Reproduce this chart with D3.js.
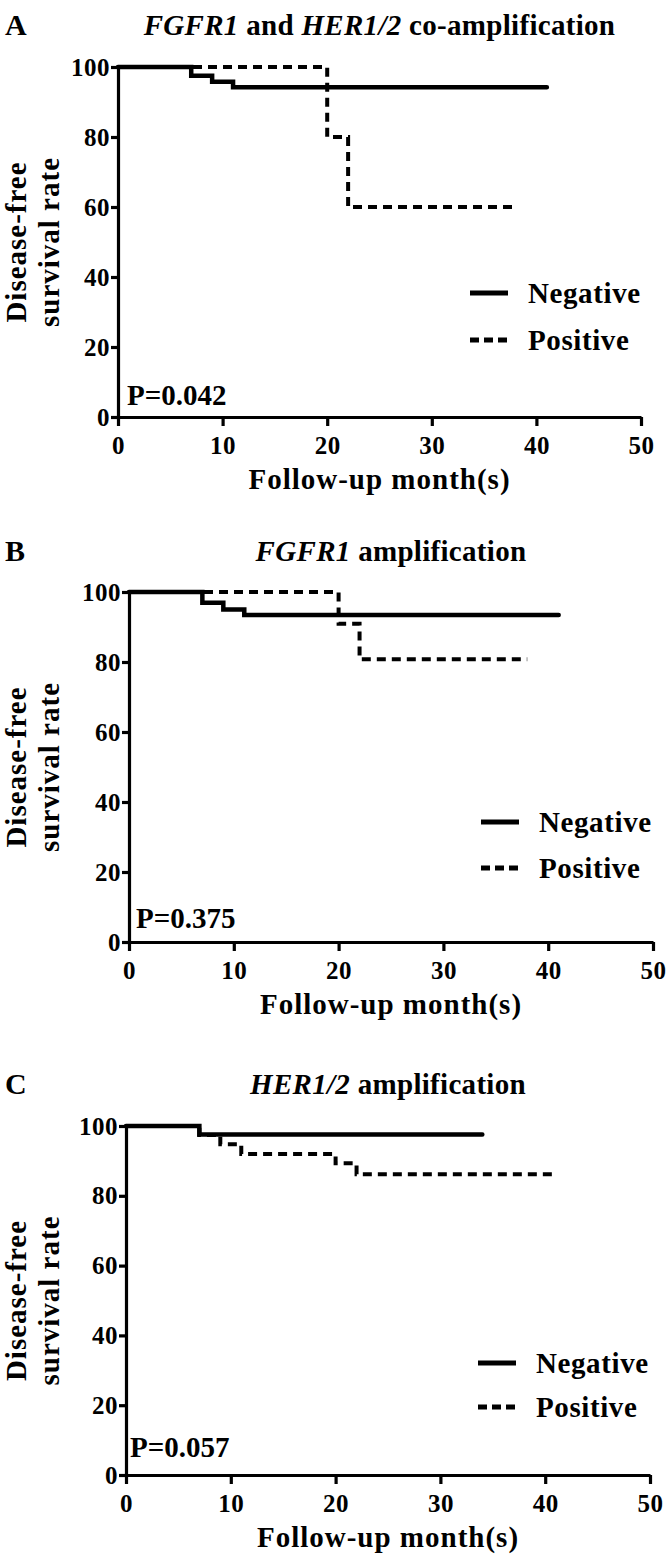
<!DOCTYPE html>
<html><head><meta charset="utf-8">
<script src="https://cdn.jsdelivr.net/npm/d3@7/dist/d3.min.js"></script>
<style>
html,body{margin:0;padding:0;background:#fff;}
</style></head>
<body>
<svg id="chart" width="669" height="1562"></svg>
<script>
// ---- data ----
const panelLabels = ["A", "B", "C"];
const titles = [
  [["FGFR1", true], [" and ", false], ["HER1/2", true], [" co-amplification", false]],
  [["FGFR1", true], [" amplification", false]],
  [["HER1/2", true], [" amplification", false]]
];
const pValues = ["P=0.042", "P=0.375", "P=0.057"];
const seriesNames = ["Negative", "Positive"];
const xTicks = [0, 10, 20, 30, 40, 50];
const yTicks = [0, 20, 40, 60, 80, 100];
const xTitle = "Follow-up month(s)";
const yTitle = ["Disease-free", "survival rate"];

// Kaplan-Meier step points [month, survival %]
const negA = [[0, 100], [7, 97.5], [9, 95.8], [11, 94.2], [41, 94.2]];
const posA = [[0, 100], [20, 80], [22, 60], [38, 60]];
const negB = [[0, 100], [7, 96.9], [9, 95.0], [11, 93.4], [41, 93.4]];
const posB = [[0, 100], [20, 90.9], [22, 80.8], [38, 80.8]];
const negC = [[0, 100], [7, 97.6], [34, 97.6]];
const posC = [[0, 100], [7, 97.4], [9, 94.8], [11, 92.0], [20, 89.3], [22, 86.2], [41, 86.2]];
const negSeries = [negA, negB, negC];
const posSeries = [posA, posB, posC];

// ---- layout ----
const FONT = "'Liberation Serif', 'Times New Roman', Times, serif";
const layout = [
  {x0: 118, x1: 641, yTop: 67,   yBot: 417,  titleY: 35,   legY: [293, 340],   pX: 127, pY: 405},
  {x0: 129, x1: 653, yTop: 592,  yBot: 942,  titleY: 561,  legY: [822, 868],   pX: 136, pY: 928},
  {x0: 126, x1: 650, yTop: 1126, yBot: 1475, titleY: 1094, legY: [1363, 1407], pX: 130, pY: 1457}
];

const svg = d3.select("#chart");
function txt(sel) {
  return sel.attr("font-family", FONT).attr("font-weight", "bold").attr("fill", "#000");
}

layout.forEach((L, i) => {
  const g = svg.append("g");
  const x = d3.scaleLinear().domain([0, 50]).range([L.x0, L.x1]);
  const y = d3.scaleLinear().domain([0, 100]).range([L.yBot, L.yTop]);

  // panel label
  txt(g.append("text")).attr("x", 5).attr("y", L.titleY).attr("font-size", 30).text(panelLabels[i]);

  // title
  const t = txt(g.append("text")).attr("x", (L.x0 + L.x1) / 2).attr("y", L.titleY)
    .attr("text-anchor", "middle").attr("font-size", 29).attr("letter-spacing", 0.3);
  titles[i].forEach(([s, it]) => {
    t.append("tspan").attr("font-style", it ? "italic" : "normal").text(s);
  });

  // axes
  const xa = g.append("g").attr("transform", `translate(0,${L.yBot})`)
    .call(d3.axisBottom(x).tickValues(xTicks).tickSize(9).tickSizeOuter(0).tickPadding(10));
  const ya = g.append("g").attr("transform", `translate(${L.x0},0)`)
    .call(d3.axisLeft(y).tickValues(yTicks).tickSize(7).tickSizeOuter(0).tickPadding(1));
  [xa, ya].forEach(a => {
    a.attr("font-family", FONT);
    a.selectAll("path,line").attr("stroke", "#000").attr("stroke-width", 3.2);
    a.selectAll("text").attr("font-size", 25).attr("fill", "#000")
      .attr("font-family", FONT).attr("font-weight", "bold").attr("letter-spacing", 0.5);
  });
  ya.select(".domain").attr("stroke-linecap", "square");

  // axis titles
  txt(g.append("text")).attr("x", (L.x0 + L.x1) / 2).attr("y", L.yBot + 72)
    .attr("text-anchor", "middle").attr("font-size", 29).attr("letter-spacing", 1).text(xTitle);
  const cy = (L.yTop + L.yBot) / 2;
  [26, 59].forEach((bx, k) => {
    txt(g.append("text")).attr("transform", `translate(${bx},${cy}) rotate(-90)`)
      .attr("text-anchor", "middle").attr("font-size", 29).attr("letter-spacing", 1).text(yTitle[k]);
  });

  // curves
  const line = d3.line().x(d => x(d[0])).y(d => y(d[1])).curve(d3.curveStepAfter);
  g.append("path").datum(posSeries[i]).attr("d", line).attr("fill", "none")
    .attr("stroke", "#000").attr("stroke-width", 4).attr("stroke-dasharray", "9,6");
  g.append("path").datum(negSeries[i]).attr("d", line).attr("fill", "none")
    .attr("stroke", "#000").attr("stroke-width", 4.5).attr("stroke-linecap", "round");

  // legend
  const lx0 = L.x0 + 352, lx1 = L.x0 + 390, tx = L.x0 + 410;
  seriesNames.forEach((nm, k) => {
    g.append("line").attr("x1", lx0).attr("x2", lx1).attr("y1", L.legY[k]).attr("y2", L.legY[k])
      .attr("stroke", "#000").attr("stroke-width", 5)
      .attr("stroke-dasharray", k === 1 ? "9,5" : null);
    txt(g.append("text")).attr("x", tx).attr("y", L.legY[k] + 10).attr("font-size", 29)
      .attr("letter-spacing", 0.6).text(nm);
  });

  // p value
  txt(g.append("text")).attr("x", L.pX).attr("y", L.pY).attr("font-size", 29).text(pValues[i]);
});
</script>
</body></html>
